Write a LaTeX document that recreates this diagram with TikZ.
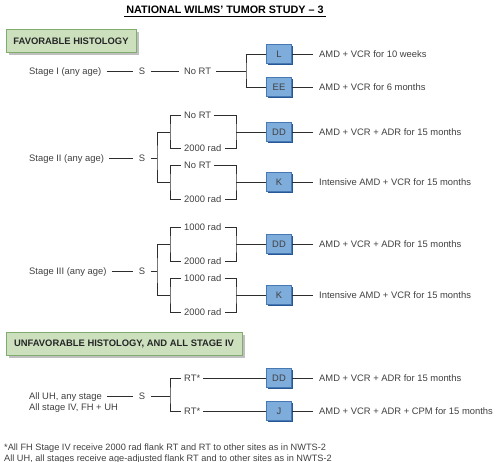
\documentclass[tikz,border=0pt]{standalone}
\usepackage{fontspec}
\setmainfont{Liberation Sans}
\usetikzlibrary{shadows}
\definecolor{txt}{RGB}{64,64,64}
\definecolor{linec}{RGB}{45,45,45}
\definecolor{bfill}{RGB}{126,172,219}
\definecolor{bborder}{RGB}{70,120,180}
\definecolor{bshadow}{RGB}{38,88,150}
\definecolor{gfill}{RGB}{204,224,190}
\definecolor{gborder}{RGB}{128,172,110}
\begin{document}
\begin{tikzpicture}[x=1pt,y=-1pt,
  every node/.style={text=txt, font=\fontsize{9.4}{11}\selectfont},
  conn/.style={draw=linec, line width=0.9pt},
  lbl/.style={inner xsep=5pt, inner ysep=0pt, text height=6.8pt, text depth=0pt},
  rlbl/.style={inner xsep=3pt, inner ysep=0pt, text height=6.8pt, text depth=0pt},
  slbl/.style={inner xsep=6pt, inner ysep=0pt, text height=6.8pt, text depth=0pt},
  res/.style={anchor=west, inner xsep=6pt, inner ysep=0pt, text height=6.8pt, text depth=0pt},
  bbox/.style={draw=bborder, fill=bfill, line width=0.8pt, minimum width=25pt, minimum height=19pt, inner sep=0pt,
     text height=6.8pt, text depth=0pt, text=black!75,
     drop shadow={shadow xshift=1.6pt, shadow yshift=-1.6pt, fill=bshadow, opacity=1}},
  gbox/.style={draw=gborder, fill=gfill, line width=0.8pt, minimum height=23pt, inner sep=0pt,
     font=\fontsize{9.4}{11}\selectfont\bfseries, text=black!85,
     drop shadow={shadow xshift=3pt, shadow yshift=-3pt, fill=black!25, opacity=1}},
  foot/.style={anchor=west, inner sep=0pt, text height=6.8pt, text depth=0pt, font=\fontsize{9.2}{11}\selectfont}
]
\useasboundingbox (0,0) rectangle (500,462);

% Title
\node[inner xsep=2pt, inner ysep=2pt, text=black, font=\fontsize{10.8}{12}\selectfont\bfseries] (title) at (225,10) {NATIONAL WILMS’ TUMOR STUDY – 3};
\draw[line width=0.8pt, black] (title.south west) -- (title.south east);

% Favorable histology
\node[gbox, minimum width=130pt] (fav) at (71,41) {FAVORABLE HISTOLOGY};

% ---------- Stage I ----------
\node[lbl, anchor=west] (s1) at (24,71) {Stage I (any age)};
\node[slbl] (S1) at (142,71) {S};
\node[lbl] (n1) at (197.5,71) {No RT};
\coordinate (b1) at (246,71);
\node[bbox] (L1) at (279,54) {L};
\node[bbox] (EE1) at (279,87) {EE};
\node[res] (t1a) at (313,54) {AMD + VCR for 10 weeks};
\node[res] (t1b) at (313,87) {AMD + VCR for 6 months};
\draw[conn] (s1.east) -- (S1.west);
\draw[conn] (S1.east) -- (n1.west);
\draw[conn] (n1.east) -- (b1);
\draw[conn] (L1.west) -| (b1) |- (EE1.west);
\draw[conn] (L1.east) -- (t1a.west);
\draw[conn] (EE1.east) -- (t1b.west);

% ---------- Stage II ----------
\node[lbl, anchor=west] (s2) at (24,158) {Stage II (any age)};
\node[slbl] (S2) at (142,158) {S};
\coordinate (b2) at (157,158);
\coordinate (l2a) at (170,132);
\coordinate (l2b) at (170,182);
\coordinate (r2a) at (236,132);
\coordinate (r2b) at (236,182);
\node[rlbl, anchor=west] (u2a) at (181,115) {No RT};
\node[rlbl, anchor=west] (u2b) at (181,148) {2000 rad};
\node[rlbl, anchor=west] (v2a) at (181,165) {No RT};
\node[rlbl, anchor=west] (v2b) at (181,199) {2000 rad};
\node[bbox] (DD2) at (279,132) {DD};
\node[bbox] (K2) at (279,182) {K};
\node[res] (t2a) at (313,132) {AMD + VCR + ADR for 15 months};
\node[res] (t2b) at (313,182) {Intensive AMD + VCR for 15 months};
\draw[conn] (s2.east) -- (S2.west);
\draw[conn] (S2.east) -- (b2);
\draw[conn] (l2a) -| (b2) |- (l2b);
\draw[conn] (u2a.west) -| (l2a) |- (u2b.west);
\draw[conn] (v2a.west) -| (l2b) |- (v2b.west);
\draw[conn] (u2a.east) -| (r2a) |- (u2b.east);
\draw[conn] (v2a.east) -| (r2b) |- (v2b.east);
\draw[conn] (r2a) -- (DD2.west);
\draw[conn] (r2b) -- (K2.west);
\draw[conn] (DD2.east) -- (t2a.west);
\draw[conn] (K2.east) -- (t2b.west);

% ---------- Stage III ----------
\node[lbl, anchor=west] (s3) at (24,271) {Stage III (any age)};
\node[slbl] (S3) at (142,271) {S};
\coordinate (b3) at (157,271);
\coordinate (l3a) at (170,244);
\coordinate (l3b) at (170,295);
\coordinate (r3a) at (236,244);
\coordinate (r3b) at (236,295);
\node[rlbl, anchor=west] (u3a) at (181,227) {1000 rad};
\node[rlbl, anchor=west] (u3b) at (181,261) {2000 rad};
\node[rlbl, anchor=west] (v3a) at (181,278) {1000 rad};
\node[rlbl, anchor=west] (v3b) at (181,312) {2000 rad};
\node[bbox] (DD3) at (279,244) {DD};
\node[bbox] (K3) at (279,295) {K};
\node[res] (t3a) at (313,244) {AMD + VCR + ADR for 15 months};
\node[res] (t3b) at (313,295) {Intensive AMD + VCR for 15 months};
\draw[conn] (s3.east) -- (S3.west);
\draw[conn] (S3.east) -- (b3);
\draw[conn] (l3a) -| (b3) |- (l3b);
\draw[conn] (u3a.west) -| (l3a) |- (u3b.west);
\draw[conn] (v3a.west) -| (l3b) |- (v3b.west);
\draw[conn] (u3a.east) -| (r3a) |- (u3b.east);
\draw[conn] (v3a.east) -| (r3b) |- (v3b.east);
\draw[conn] (r3a) -- (DD3.west);
\draw[conn] (r3b) -- (K3.west);
\draw[conn] (DD3.east) -- (t3a.west);
\draw[conn] (K3.east) -- (t3b.west);

% Unfavorable histology
\node[gbox, minimum width=236pt] (unfav) at (124,343.5) {UNFAVORABLE HISTOLOGY, AND ALL STAGE IV};

% ---------- UH ----------
\node[lbl, anchor=west] (s4a) at (24,396) {All UH, any stage};
\node[lbl, anchor=west] (s4b) at (24,407) {All stage IV, FH + UH};
\node[slbl] (S4) at (142,396) {S};
\coordinate (b4) at (170,396);
\node[rlbl, anchor=west] (u4a) at (181,378) {RT*};
\node[rlbl, anchor=west] (u4b) at (181,411) {RT*};
\node[bbox] (DD4) at (279,378) {DD};
\node[bbox] (J4) at (279,411) {J};
\node[res] (t4a) at (313,378) {AMD + VCR + ADR for 15 months};
\node[res] (t4b) at (313,411) {AMD + VCR + ADR + CPM for 15 months};
\draw[conn] (s4a.east) -- (S4.west);
\draw[conn] (S4.east) -- (b4);
\draw[conn] (u4a.west) -| (b4) |- (u4b.west);
\draw[conn] (u4a.east) -- (DD4.west);
\draw[conn] (u4b.east) -- (J4.west);
\draw[conn] (DD4.east) -- (t4a.west);
\draw[conn] (J4.east) -- (t4b.west);

% Footnotes
\node[foot] (f1) at (4,447) {*All FH Stage IV receive 2000 rad flank RT and RT to other sites as in NWTS-2};
\node[foot] (f2) at (4,458) {All UH, all stages receive age-adjusted flank RT and to other sites as in NWTS-2};
\end{tikzpicture}
\end{document}
